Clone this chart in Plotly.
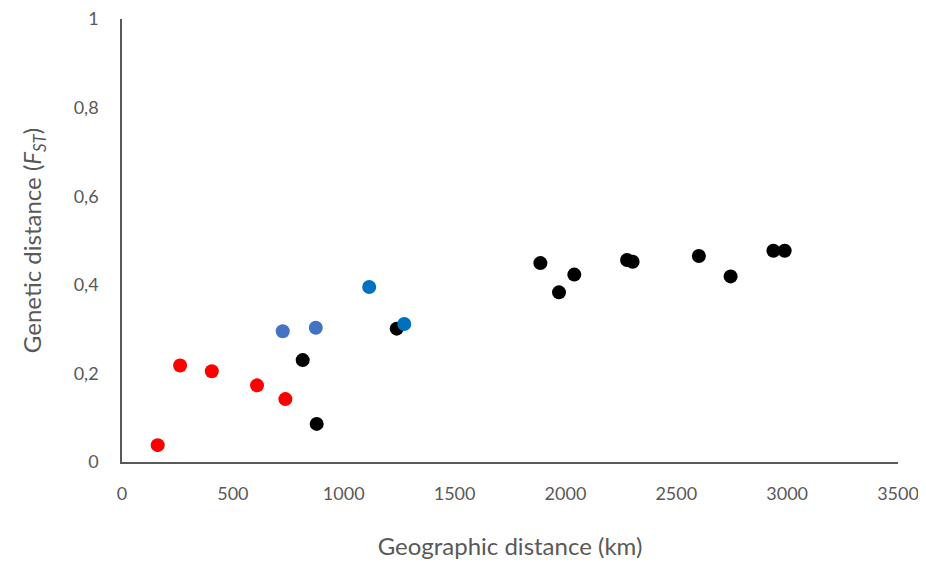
import plotly.graph_objects as go

# Data
red_x = [161, 262, 405, 609, 737]
red_y = [0.038, 0.218, 0.205, 0.173, 0.142]

blue1_x = [725, 874]
blue1_y = [0.295, 0.303]

black_x = [815, 878, 1239, 1887, 1971, 2040, 2278, 2303, 2602, 2745, 2938, 2989]
black_y = [0.230, 0.086, 0.301, 0.449, 0.383, 0.423, 0.456, 0.452, 0.465, 0.419, 0.477, 0.477]

blue2_x = [1115, 1273]
blue2_y = [0.395, 0.3115]

x_ticks = [0, 500, 1000, 1500, 2000, 2500, 3000, 3500]
y_ticks = [0, 0.2, 0.4, 0.6, 0.8, 1]
y_ticklabels = ["0", "0,2", "0,4", "0,6", "0,8", "1"]

FONT = "Lato, Open Sans, sans-serif"
GREY = "#595959"

fig = go.Figure()
msize = 14
for xs, ys, col in [(red_x, red_y, "#FF0000"),
                    (blue1_x, blue1_y, "#4472C4"),
                    (black_x, black_y, "#000000"),
                    (blue2_x, blue2_y, "#0070C0")]:
    fig.add_trace(go.Scatter(x=xs, y=ys, mode="markers",
                             marker=dict(color=col, size=msize, line=dict(width=0)),
                             showlegend=False, cliponaxis=False))

# page body has an 8px margin, so the figure is sized to fit the window
fig.update_layout(
    width=918, height=556,
    margin=dict(l=114, r=28, t=11, b=102),
    plot_bgcolor="white", paper_bgcolor="white",
    font=dict(family=FONT, color=GREY),
)
fig.update_xaxes(
    range=[0, 3500], tickvals=x_ticks, ticktext=[str(v) for v in x_ticks],
    showgrid=False, zeroline=False, showline=True, linecolor="#595959", linewidth=1.5,
    ticks="", ticklabelstandoff=15, tickfont=dict(size=18, color=GREY, family=FONT),
    automargin=False, ticklabeloverflow="allow",
    title=dict(text="Geographic distance (km)", font=dict(size=24, color=GREY, family=FONT), standoff=35),
)
fig.update_yaxes(
    range=[0, 1], tickvals=y_ticks, ticktext=y_ticklabels,
    showgrid=False, zeroline=False, showline=True, linecolor="#595959", linewidth=1.5,
    ticks="", ticklabelstandoff=18, tickfont=dict(size=18, color=GREY, family=FONT),
    automargin=False, ticklabeloverflow="allow",
    title=dict(text="Genetic distance (<i>F</i><sub><i>ST</i></sub>)", font=dict(size=24, color=GREY, family=FONT), standoff=25),
)

fig.write_html("out.html")
